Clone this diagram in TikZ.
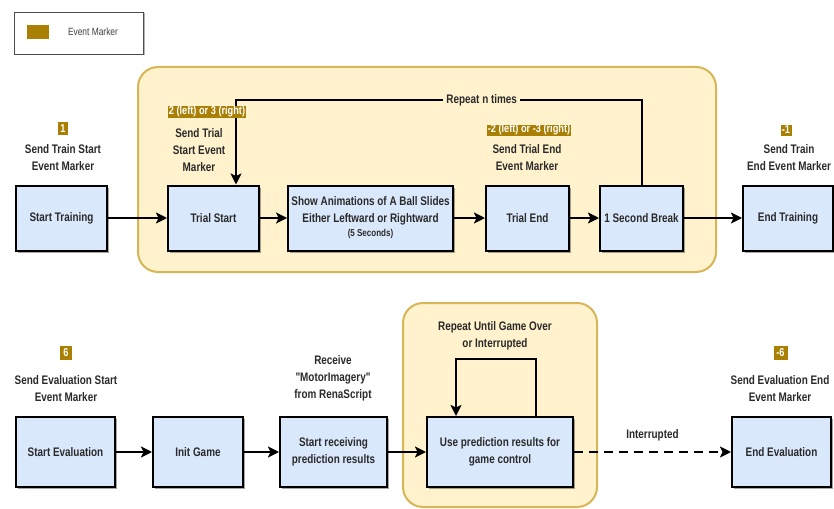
\documentclass[tikz,border=0pt]{standalone}
\usepackage{fontspec}
\setmainfont[FakeStretch=0.80, Ligatures=TeXOff]{Liberation Sans}
\usetikzlibrary{arrows.meta,shadows,calc}

\definecolor{boxfill}{HTML}{DAE8FC}
\definecolor{groupfill}{HTML}{FFF2CC}
\definecolor{groupline}{HTML}{D6B656}
\definecolor{markfill}{RGB}{170,128,4}
\definecolor{txt}{HTML}{2A2A2A}

\tikzset{
  stepbox/.style={draw=black, line width=2pt, fill=boxfill, align=center,
    font=\bfseries\fontsize{12.4}{17}\selectfont, text=txt,
    drop shadow={shadow xshift=2pt, shadow yshift=-2pt, opacity=0.35, fill=black}},
  group/.style={draw=groupline, line width=2pt, fill=groupfill, rounded corners=20pt},
  marker/.style={fill=markfill, text=white, inner xsep=1.2pt, inner ysep=0pt,
    font=\bfseries\fontsize{11.5}{11.5}\selectfont},
  caption/.style={align=center, text=txt, font=\bfseries\fontsize{12.4}{17}\selectfont},
  flow/.style={line width=2.5pt, -{Stealth[length=11pt,width=11pt,inset=2.5pt]}},
  loopline/.style={line width=2pt, -{Stealth[length=11pt,width=11pt,inset=2.5pt]}},
}

\begin{document}
\begin{tikzpicture}[x=1pt, y=-1pt]
\useasboundingbox[fill=white] (0,0) rectangle (834,508);

% legend
\draw[draw=black!70, line width=0.8pt, fill=white,
  drop shadow={shadow xshift=1.5pt, shadow yshift=-1.5pt, opacity=0.3, fill=black}]
  (14,12) rectangle (143,54);
\fill[markfill] (27,25) rectangle (49,39);
\node[text=black!75, font=\fontsize{10.5}{11}\selectfont] (legendtext) at (93,32) {Event Marker};

% loop containers
\draw[group] (138,67) rectangle (716,272);
\draw[group] (403,303) rectangle (597,507);

% training row
\node[stepbox, minimum width=91pt, minimum height=65pt] (st) at (61.5,218) {Start Training};
\node[stepbox, minimum width=91pt, minimum height=65pt] (ts) at (213.5,218) {Trial Start};
\node[stepbox, minimum width=163pt, minimum height=65pt] (sa) at (370.5,218)
  {Show Animations of A Ball Slides\\Either Leftward or Rightward\\[-3pt]{\fontsize{10}{12}\selectfont (5 Seconds)}};
\node[stepbox, minimum width=83pt, minimum height=65pt] (te) at (527.5,218) {Trial End};
\node[stepbox, minimum width=83pt, minimum height=65pt] (sb) at (641.5,218) {1 Second Break};
\node[stepbox, minimum width=90pt, minimum height=65pt] (et) at (788,218) {End Training};

\draw[flow] (st) -- (ts);
\draw[flow] (ts) -- (sa);
\draw[flow] (sa) -- (te);
\draw[flow] (te) -- (sb);
\draw[flow] (sb) -- (et);

% repeat loop of the training trials
\coordinate (loopy) at (0,100);
\coordinate (tsin) at ($(ts.north)+(22.5,0)$);
\draw[loopline] (sb.north) -- (sb.north |- loopy)
  -- node[pos=0.394, fill=groupfill, text=txt, font=\bfseries\fontsize{12.4}{14}\selectfont, inner xsep=3pt] (rep) {Repeat n times}
  (tsin |- loopy) -- (tsin);

% training markers and captions
\node[marker, minimum width=10pt, minimum height=13pt] (m1) at (63,128.5) {1};
\node[caption] (c1) at (63,158) {Send Train Start\\Event Marker};
\node[marker, minimum height=11pt] (m2) at (207,112) {2 (left) or 3 (right)};
\node[caption] (c2) at (199,150) {Send Trial\\Start Event\\Marker};
\node[marker, minimum height=11pt] (m3) at (529,130) {-2 (left) or -3 (right)};
\node[caption] (c3) at (527,158) {Send Trial End\\Event Marker};
\node[marker, minimum width=11pt, minimum height=11pt] (m4) at (786,130) {-1};
\node[caption] (c4) at (789,158) {Send Train\\End Event Marker};

% evaluation row
\node[stepbox, minimum width=99pt, minimum height=70pt] (se) at (65.5,452) {Start Evaluation};
\node[stepbox, minimum width=90pt, minimum height=70pt] (ig) at (198,452) {Init Game};
\node[stepbox, minimum width=107pt, minimum height=70pt] (sr) at (333.5,452) {Start receiving\\prediction results};
\node[stepbox, minimum width=146pt, minimum height=70pt] (up) at (500,452) {Use prediction results for\\game control};
\node[stepbox, minimum width=99pt, minimum height=70pt] (ee) at (781.5,452) {End Evaluation};

\draw[flow] (se) -- (ig);
\draw[flow] (ig) -- (sr);
\draw[flow] (sr) -- (up);
\draw[flow, dash pattern=on 9pt off 6pt] (up) -- node[above=6pt, text=txt, font=\bfseries\fontsize{12.4}{14}\selectfont] (intr) {Interrupted} (ee);

% game loop
\draw[loopline] ([xshift=36pt]up.north) -- ++(0,-57) -| ([xshift=-44pt]up.north);
\node[caption] (c5) at (495,336) {Repeat Until Game Over\\or Interrupted};

% evaluation markers and captions
\node[marker, minimum width=12pt, minimum height=14pt] (m5) at (66,353) {6};
\node[caption] (c6) at (66,389) {Send Evaluation Start\\Event Marker};
\node[caption] (c7) at (333,378) {Receive\\"MotorImagery"\\from RenaScript};
\node[marker, minimum width=14pt, minimum height=14pt] (m6) at (780.5,352.5) {-6};
\node[caption] (c8) at (780,389) {Send Evaluation End\\Event Marker};
\end{tikzpicture}
\end{document}
